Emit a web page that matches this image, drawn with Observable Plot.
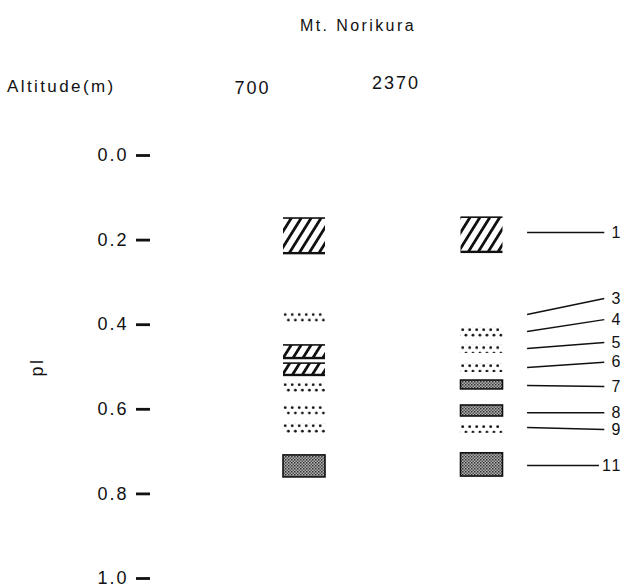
<!DOCTYPE html>
<html><head><meta charset="utf-8">
<script src="https://cdn.jsdelivr.net/npm/d3@7"></script>
<script src="https://cdn.jsdelivr.net/npm/@observablehq/plot@0.6"></script>
<style>
body{margin:0;background:#fff;}
#wrap{position:relative;width:624px;height:588px;font-family:"Liberation Sans",Arial,sans-serif;color:#111;}
.hdr{position:absolute;white-space:nowrap;letter-spacing:2.4px;line-height:1;}
#chart{position:absolute;left:0;top:0;}
#chart svg text{letter-spacing:2px;}
</style></head><body>
<div id="wrap">
<div id="chart"></div>
<div class="hdr" id="title" style="left:300px;top:18px;font-size:16px">Mt. Norikura</div>
<div class="hdr" id="alt" style="left:7px;top:78px;font-size:17px">Altitude(m)</div>
</div>
<script>
// ---- data ----
const lanes = ["700", "2370"];                       // altitude (m)
const yTicks = [0.0, 0.2, 0.4, 0.6, 0.8, 1.0];
const yLabel = "pI";
// bands: lane, top and bottom of each band (axis units), band pattern
const bandLane   = ["700","700","700","700","700","700","700","700",
                    "2370","2370","2370","2370","2370","2370","2370","2370"];
const bandTop    = [0.149,0.371,0.449,0.492,0.537,0.591,0.634,0.709,
                    0.147,0.407,0.449,0.492,0.532,0.591,0.636,0.704];
const bandBottom = [0.232,0.395,0.480,0.520,0.560,0.619,0.657,0.761,
                    0.229,0.430,0.468,0.513,0.553,0.617,0.657,0.759];
const bandKind   = ["hatch","dots","hatch","hatch","dots","dots","dots","solid",
                    "hatch","dots","dots","dots","solid","solid","dots","solid"];
// numbered key on the right: leader start / end level and label
const keyLabel = ["1","3","4","5","6","7","8","9","11"];
const keyFrom  = [0.182,0.376,0.416,0.456,0.501,0.544,0.608,0.643,0.733];
const keyTo    = [0.182,0.338,0.388,0.442,0.489,0.546,0.608,0.648,0.733];

const bands = bandLane.map((lane, i) => ({lane, top: bandTop[i], bottom: bandBottom[i], kind: bandKind[i]}));
const keys = keyLabel.map((label, i) => ({label, from: keyFrom[i], to: keyTo[i]}));
const laneIndex = d => lanes.indexOf(d.lane);
const keyLane = lanes.length - 1;

const half = -21;
const ink = "#111";
const rectBase = {x1: laneIndex, x2: laneIndex, insetLeft: half, insetRight: half};

const chart = Plot.plot({
  width: 624, height: 588,
  marginTop: 155, marginBottom: 10, marginLeft: 150, marginRight: 0,
  style: {fontFamily: '"Liberation Sans", Arial, sans-serif', background: "#fff", color: ink},
  x: {domain: [0, 1], range: [304, 481.5], axis: null},
  y: {domain: [0, 1], reverse: true},
  marks: [
    Plot.axisY(yTicks, {tickFormat: d3.format(".1f"), tickSize: 14, tickPadding: 8,
      strokeWidth: 2.8, fontSize: 18, label: yLabel, labelAnchor: "center",
      labelArrow: "none", labelOffset: 120}),
    // lane headers
    Plot.text(lanes, {filter: d => d === "700", x: d => lanes.indexOf(d), text: d => d,
      frameAnchor: "top", dy: -74, dx: -52, fontSize: 18}),
    Plot.text(lanes, {filter: d => d === "2370", x: d => lanes.indexOf(d), text: d => d,
      frameAnchor: "top", dy: -79, dx: -86, fontSize: 18}),
    // bands
    Plot.rect(bands, {...rectBase, filter: d => d.kind === "hatch", y1: "top", y2: "bottom", fill: "url(#hatch)"}),
    Plot.rect(bands, {...rectBase, filter: d => d.kind === "hatch", y1: "top", y2: "top", insetTop: -0.8, insetBottom: -0.8, fill: ink}),
    Plot.rect(bands, {...rectBase, filter: d => d.kind === "hatch", y1: "bottom", y2: "bottom", insetTop: -1.2, insetBottom: -1.2, fill: ink}),
    Plot.rect(bands, {...rectBase, filter: d => d.kind === "dots", y1: "top", y2: "bottom", fill: "url(#dots)"}),
    Plot.rect(bands, {...rectBase, filter: d => d.kind === "solid", y1: "top", y2: "bottom", fill: "url(#stipple)", stroke: ink, strokeWidth: 1.6}),
    // key leaders and numbers (leaders stop short of longer labels)
    Plot.link(keys, {x1: keyLane + 0.254, x2: d => keyLane + 0.689 - 0.03 * (d.label.length - 1),
      y1: "from", y2: "to", stroke: ink, strokeWidth: 1.5}),
    Plot.text(keys, {frameAnchor: "right", y: "to", text: "label", dx: -2, textAnchor: "end", fontSize: 16})
  ]
});

const defs = document.createElementNS("http://www.w3.org/2000/svg", "defs");
defs.innerHTML = `
<pattern id="hatch" patternUnits="userSpaceOnUse" width="8.4" height="20" patternTransform="rotate(32)">
  <rect x="0" y="0" width="2.8" height="20" fill="${ink}"/>
</pattern>
<pattern id="dots" patternUnits="objectBoundingBox" width="0.1667" height="1">
  <circle cx="2.2" cy="2.6" r="1.4" fill="${ink}"/>
  <circle cx="5.4" cy="8" r="1.4" fill="${ink}"/>
</pattern>
<pattern id="stipple" patternUnits="userSpaceOnUse" width="3" height="3">
  <rect width="3" height="3" fill="#b0b0b0"/>
  <rect width="1.5" height="1.5" fill="#333"/>
  <rect x="1.5" y="1.5" width="1.5" height="1.5" fill="#555"/>
</pattern>`;
chart.insertBefore(defs, chart.firstChild);
document.getElementById("chart").appendChild(chart);
</script>
</body></html>
